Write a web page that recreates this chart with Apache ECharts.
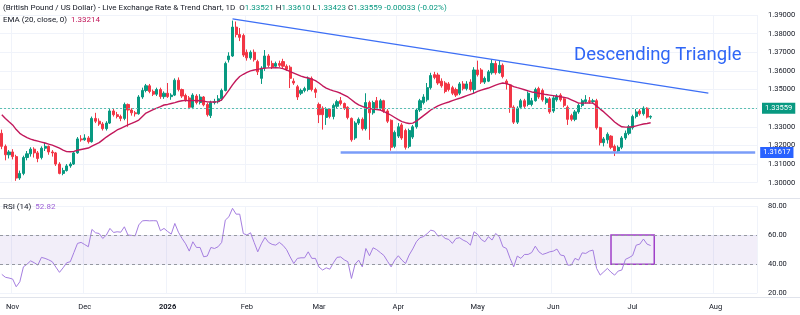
<!DOCTYPE html>
<html>
<head>
<meta charset="utf-8">
<script src="https://cdn.jsdelivr.net/npm/echarts@6/dist/echarts.min.js"></script>
<style>
html,body{margin:0;padding:0;background:#fff}
#main{width:800px;height:315px}
</style>
</head>
<body>
<div id="main"></div>
<script>
// GBP/USD daily candles, [open, close, low, high]
var candles = [
 [1.3265,1.3195,1.3180,1.3285],[1.3195,1.3150,1.3120,1.3205],[1.3150,1.3165,1.3130,1.3175],[1.3165,1.3140,1.3125,1.3180],
 [1.3140,1.3025,1.3010,1.3150],[1.3025,1.3050,1.3015,1.3065],[1.3050,1.3135,1.3040,1.3145],[1.3135,1.3155,1.3120,1.3170],
 [1.3155,1.3180,1.3140,1.3190],[1.3180,1.3160,1.3135,1.3190],[1.3160,1.3130,1.3110,1.3170],[1.3135,1.3185,1.3125,1.3195],
 [1.3185,1.3195,1.3170,1.3215],[1.3195,1.3165,1.3150,1.3200],[1.3165,1.3160,1.3140,1.3175],[1.3160,1.3100,1.3090,1.3165],
 [1.3100,1.3050,1.3045,1.3110],[1.3050,1.3065,1.3040,1.3080],[1.3065,1.3090,1.3060,1.3100],[1.3090,1.3100,1.3080,1.3110],
 [1.3100,1.3160,1.3095,1.3170],[1.3160,1.3235,1.3155,1.3245],[1.3235,1.3230,1.3220,1.3255],[1.3230,1.3240,1.3225,1.3260],
 [1.3240,1.3220,1.3210,1.3250],[1.3220,1.3345,1.3215,1.3355],[1.3345,1.3330,1.3320,1.3375],[1.3330,1.3315,1.3305,1.3345],
 [1.3315,1.3290,1.3280,1.3325],[1.3290,1.3320,1.3280,1.3330],[1.3320,1.3385,1.3315,1.3395],[1.3385,1.3365,1.3355,1.3400],
 [1.3365,1.3355,1.3345,1.3380],[1.3355,1.3345,1.3330,1.3365],[1.3345,1.3420,1.3335,1.3430],[1.3420,1.3390,1.3300,1.3425],
 [1.3390,1.3375,1.3360,1.3400],[1.3375,1.3370,1.3355,1.3385],[1.3370,1.3460,1.3365,1.3470],[1.3460,1.3495,1.3450,1.3510],
 [1.3495,1.3520,1.3485,1.3530],[1.3520,1.3490,1.3480,1.3530],[1.3490,1.3475,1.3465,1.3500],[1.3475,1.3500,1.3465,1.3510],
 [1.3500,1.3462,1.3450,1.3510],[1.3462,1.3480,1.3450,1.3490],[1.3480,1.3462,1.3455,1.3535],[1.3462,1.3470,1.3445,1.3480],
 [1.3470,1.3550,1.3465,1.3560],[1.3550,1.3500,1.3490,1.3565],[1.3500,1.3465,1.3455,1.3505],[1.3468,1.3445,1.3435,1.3478],
 [1.3455,1.3405,1.3395,1.3465],[1.3405,1.3470,1.3395,1.3480],[1.3465,1.3430,1.3420,1.3475],[1.3430,1.3460,1.3420,1.3475],
 [1.3460,1.3418,1.3410,1.3465],[1.3420,1.3365,1.3355,1.3430],[1.3360,1.3430,1.3347,1.3440],[1.3430,1.3435,1.3420,1.3450],
 [1.3435,1.3450,1.3425,1.3470],[1.3450,1.3495,1.3440,1.3505],[1.3495,1.3640,1.3490,1.3650],[1.3660,1.3680,1.3645,1.3700],
 [1.3680,1.3835,1.3675,1.3870],[1.3835,1.3795,1.3780,1.3865],[1.3795,1.3780,1.3760,1.3830],[1.3790,1.3685,1.3675,1.3800],
 [1.3700,1.3670,1.3655,1.3715],[1.3670,1.3700,1.3660,1.3710],[1.3700,1.3660,1.3650,1.3715],[1.3650,1.3595,1.3578,1.3660],
 [1.3560,1.3615,1.3530,1.3625],[1.3615,1.3680,1.3600,1.3712],[1.3680,1.3630,1.3620,1.3690],[1.3640,1.3620,1.3610,1.3655],
 [1.3625,1.3640,1.3615,1.3650],[1.3640,1.3630,1.3620,1.3655],[1.3650,1.3625,1.3615,1.3665],[1.3625,1.3610,1.3600,1.3635],
 [1.3620,1.3560,1.3508,1.3630],[1.3545,1.3535,1.3525,1.3560],[1.3515,1.3460,1.3444,1.3525],[1.3480,1.3495,1.3470,1.3505],
 [1.3495,1.3505,1.3485,1.3515],[1.3500,1.3560,1.3490,1.3570],[1.3560,1.3500,1.3490,1.3570],[1.3500,1.3485,1.3455,1.3510],
 [1.3420,1.3365,1.3320,1.3430],[1.3400,1.3365,1.3285,1.3410],[1.3350,1.3395,1.3310,1.3405],[1.3395,1.3355,1.3345,1.3400],
 [1.3355,1.3415,1.3340,1.3425],[1.3410,1.3435,1.3400,1.3445],[1.3440,1.3425,1.3415,1.3460],[1.3425,1.3400,1.3390,1.3430],
 [1.3405,1.3350,1.3340,1.3410],[1.3345,1.3230,1.3220,1.3350],[1.3240,1.3320,1.3230,1.3330],[1.3320,1.3340,1.3310,1.3350],
 [1.3340,1.3290,1.3280,1.3350],[1.3290,1.3430,1.3280,1.3480],[1.3430,1.3375,1.3230,1.3440],[1.3375,1.3430,1.3365,1.3440],
 [1.3440,1.3400,1.3390,1.3460],[1.3400,1.3440,1.3390,1.3450],[1.3440,1.3385,1.3375,1.3445],[1.3385,1.3330,1.3320,1.3395],
 [1.3335,1.3190,1.3172,1.3340],[1.3195,1.3270,1.3185,1.3280],[1.3250,1.3300,1.3240,1.3320],[1.3310,1.3240,1.3230,1.3320],
 [1.3280,1.3190,1.3178,1.3290],[1.3195,1.3280,1.3185,1.3290],[1.3245,1.3300,1.3235,1.3310],[1.3300,1.3390,1.3290,1.3400],
 [1.3390,1.3440,1.3380,1.3450],[1.3430,1.3460,1.3420,1.3475],[1.3445,1.3510,1.3435,1.3535],[1.3510,1.3575,1.3500,1.3590],
 [1.3580,1.3565,1.3555,1.3595],[1.3578,1.3535,1.3525,1.3590],[1.3545,1.3520,1.3510,1.3560],[1.3535,1.3490,1.3480,1.3545],
 [1.3530,1.3500,1.3490,1.3540],[1.3510,1.3480,1.3470,1.3520],[1.3500,1.3470,1.3460,1.3510],[1.3480,1.3530,1.3470,1.3540],
 [1.3530,1.3505,1.3495,1.3545],[1.3505,1.3530,1.3495,1.3545],[1.3540,1.3500,1.3490,1.3555],[1.3500,1.3605,1.3480,1.3620],
 [1.3605,1.3580,1.3570,1.3655],[1.3605,1.3540,1.3530,1.3615],[1.3540,1.3560,1.3530,1.3570],[1.3545,1.3595,1.3540,1.3605],
 [1.3590,1.3640,1.3580,1.3660],[1.3640,1.3590,1.3580,1.3655],[1.3590,1.3630,1.3585,1.3655],[1.3630,1.3570,1.3560,1.3640],
 [1.3545,1.3530,1.3500,1.3555],[1.3525,1.3405,1.3375,1.3530],[1.3405,1.3325,1.3315,1.3415],[1.3325,1.3400,1.3315,1.3410],
 [1.3405,1.3440,1.3395,1.3450],[1.3440,1.3410,1.3400,1.3450],[1.3420,1.3480,1.3410,1.3490],[1.3420,1.3440,1.3410,1.3455],
 [1.3440,1.3500,1.3435,1.3510],[1.3505,1.3460,1.3450,1.3515],[1.3495,1.3445,1.3435,1.3505],[1.3430,1.3450,1.3420,1.3460],
 [1.3450,1.3380,1.3370,1.3460],[1.3385,1.3455,1.3375,1.3465],[1.3445,1.3465,1.3435,1.3475],[1.3470,1.3445,1.3435,1.3480],
 [1.3450,1.3415,1.3405,1.3460],[1.3405,1.3340,1.3310,1.3415],[1.3360,1.3340,1.3330,1.3370],[1.3340,1.3380,1.3330,1.3390],
 [1.3380,1.3415,1.3370,1.3425],[1.3415,1.3440,1.3405,1.3450],[1.3435,1.3445,1.3425,1.3470],[1.3440,1.3435,1.3425,1.3460],
 [1.3435,1.3440,1.3425,1.3450],[1.3440,1.3295,1.3285,1.3450],[1.3295,1.3215,1.3200,1.3300],[1.3215,1.3235,1.3195,1.3245],
 [1.3230,1.3260,1.3210,1.3270],[1.3250,1.3190,1.3180,1.3255],[1.3195,1.3170,1.3143,1.3205],[1.3170,1.3190,1.3160,1.3200],
 [1.3190,1.3240,1.3180,1.3250],[1.3240,1.3265,1.3230,1.3280],[1.3265,1.3300,1.3255,1.3310],[1.3295,1.3355,1.3285,1.3365],
 [1.3355,1.3380,1.3345,1.3395],[1.3385,1.3370,1.3360,1.3395],[1.3370,1.3400,1.3360,1.3410],[1.3400,1.3352,1.3345,1.3405],
 [1.33521,1.33559,1.33423,1.33610]
];

// EMA(20, close)
var ema20 = [
 1.3365,1.3345,1.3327,1.3310,1.3285,1.3265,1.3252,1.3242,1.3234,1.3228,1.3223,1.3218,1.3213,1.3207,1.3202,1.3194,
 1.3185,1.3175,1.3167,1.3166,1.3168,1.3174,1.3178,1.3182,1.3186,1.3196,1.3206,1.3215,1.3230,1.3245,1.3258,1.3270,
 1.3283,1.3292,1.3301,1.3310,1.3318,1.3327,1.3336,1.3355,1.3374,1.3383,1.3392,1.3400,1.3408,1.3417,1.3420,1.3425,
 1.3430,1.3436,1.3440,1.3442,1.3440,1.3442,1.3440,1.3441,1.3438,1.3434,1.3433,1.3433,1.3435,1.3445,1.3470,1.3497,
 1.3525,1.3550,1.3570,1.3582,1.3592,1.3600,1.3605,1.3608,1.3612,1.3615,1.3616,1.3616,1.3617,1.3616,1.3612,1.3605,
 1.3596,1.3588,1.3580,1.3572,1.3566,1.3562,1.3556,1.3548,1.3535,1.3520,1.3508,1.3500,1.3493,1.3487,1.3480,1.3470,
 1.3460,1.3445,1.3430,1.3418,1.3410,1.3402,1.3398,1.3395,1.3393,1.3390,1.3382,1.3372,1.3362,1.3350,1.3338,1.3328,
 1.3322,1.3318,1.3320,1.3330,1.3345,1.3360,1.3375,1.3390,1.3402,1.3412,1.3420,1.3427,1.3433,1.3440,1.3447,1.3453,
 1.3460,1.3467,1.3474,1.3481,1.3490,1.3497,1.3503,1.3508,1.3516,1.3524,1.3530,1.3535,1.3532,1.3525,1.3516,1.3510,
 1.3505,1.3499,1.3493,1.3487,1.3484,1.3480,1.3477,1.3473,1.3470,1.3467,1.3464,1.3461,1.3458,1.3454,1.3445,1.3436,
 1.3427,1.3427,1.3428,1.3428,1.3427,1.3412,1.3395,1.3380,1.3362,1.3344,1.3326,1.3312,1.3300,1.3298,1.3298,1.3300,
 1.3305,1.3310,1.3315,1.3318,1.33214
];

// RSI(14)
var rsi14 = [
 33,31,30.5,29.8,24.5,27.9,38.2,40,42.3,41,39.4,44.7,44,43,41.7,38,34.4,37.5,41,41.7,
 48,54.3,55,53.5,52,63.9,61.6,61.1,57.7,60,64.6,61.8,62.3,62,65.7,60,59.8,59.5,67,69.8,
 70,69.8,69.9,69.8,63,64.6,62.5,60.7,68,62,57.7,54,49,55.4,51.5,51.5,45.1,45.6,51.5,50.8,
 52,55,70.3,72.6,78.4,74.4,74.4,61.1,60,61.6,55,48.5,54,58.4,55,53.6,53.1,55,53,50,
 45,40.5,44,44.4,44.4,48.5,44,44,38,36,37.5,36.6,41,44.7,45,43,41.7,30.2,40,42.8,
 38.2,50.8,45.8,51.3,50,48,46,42,38.2,42.8,45.8,42.8,40.5,46.3,50.5,55.4,58.2,59,61,63.4,
 62.7,59.3,60,57.7,57,54.3,57.7,58.2,56.5,55.4,53.1,62.3,60.5,57,55.4,58.9,56.6,61.1,58.9,52,
 50.8,44,38.2,45.6,44,46.7,46.7,48,52.4,48.5,46.7,47.5,48.5,49,50.4,46.3,45.8,39.4,39.4,44,
 42.8,47.8,47.4,49,49.7,37.1,32.5,34.8,37.1,34.5,32.5,35.3,36,43.3,44.5,46,53.1,53.8,57.3,53.8,
 52.82
];

var monthTicks = ['Nov', 'Dec', '2026', 'Feb', 'Mar', 'Apr', 'May', 'Jun', 'Jul', 'Aug'];
var priceTicks = [1.30, 1.39];   // price pane min / max
var rsiTicks = [20, 80];

var lastClose = 1.33559;
var lastEma = 1.33214;
var supportLevel = 1.31617;
var lastRsi = 52.82;

// trading days (Mon-Fri) from 29 Oct 2025, with room on the right
var dates = [];
var d = new Date(Date.UTC(2025, 9, 29));
while (dates.length < 210) {
    var wd = d.getUTCDay();
    if (wd !== 0 && wd !== 6) dates.push(d.toISOString().slice(0, 10));
    d.setUTCDate(d.getUTCDate() + 1);
}
var tickText = {};
var m = 0;
for (var i = 1; i < dates.length; i++) {
    if (dates[i].slice(0, 7) !== dates[i - 1].slice(0, 7)) {
        tickText[i] = monthTicks[m++];
    }
}
function isMonthStart(index) { return tickText[index] !== undefined; }

var FONT = 'Roboto, "Noto Sans", sans-serif';
var UP = '#089981', DOWN = '#f23645';
var GRIDC = '#f0f3fa';

var chart = echarts.init(document.getElementById('main'));
var option = {
    animation: false,
    backgroundColor: '#ffffff',
    grid: [
        {left: 0, width: 757, top: 15, height: 167.7},
        {left: 0, width: 757, top: 206, height: 87.3}
    ],
    xAxis: [
        {
            type: 'category', gridIndex: 0, data: dates, boundaryGap: true,
            axisLine: {show: false}, axisTick: {show: false}, axisLabel: {show: false},
            splitLine: {show: true, interval: isMonthStart, lineStyle: {color: GRIDC}}
        },
        {
            type: 'category', gridIndex: 1, data: dates, boundaryGap: true,
            axisLine: {show: false}, axisTick: {show: false},
            axisLabel: {
                interval: isMonthStart, margin: 10, color: '#131722',
                fontFamily: FONT, fontSize: 7.5,
                formatter: function (v, idx) {
                    var t = tickText[idx] || '';
                    return t === '2026' ? '{b|' + t + '}' : t;
                },
                rich: {b: {fontWeight: 'bold', fontSize: 7.5, fontFamily: FONT, color: '#131722'}}
            },
            splitLine: {show: true, interval: isMonthStart, lineStyle: {color: GRIDC}}
        }
    ],
    yAxis: [
        {
            type: 'value', gridIndex: 0, position: 'right',
            min: priceTicks[0], max: priceTicks[1], interval: 0.01,
            axisLine: {show: false}, axisTick: {show: false},
            axisLabel: {
                margin: 11, color: '#131722', fontFamily: FONT, fontSize: 7.5,
                formatter: function (v) { return v.toFixed(5); }
            },
            splitLine: {lineStyle: {color: GRIDC}}
        },
        {
            type: 'value', gridIndex: 1, position: 'right',
            min: rsiTicks[0], max: rsiTicks[1], interval: 20,
            axisLine: {show: false}, axisTick: {show: false},
            axisLabel: {
                margin: 11, color: '#131722', fontFamily: FONT, fontSize: 7.5,
                formatter: function (v) { return v.toFixed(2); }
            },
            splitLine: {lineStyle: {color: GRIDC}}
        }
    ],
    series: [
        {
            name: 'GBPUSD', type: 'candlestick', xAxisIndex: 0, yAxisIndex: 0,
            data: candles, barWidth: 2.6,
            itemStyle: {color: UP, color0: DOWN, borderColor: UP, borderColor0: DOWN, borderWidth: 1},
            markLine: {
                silent: true, symbol: ['none', 'none'], animation: false,
                data: [
                    [
                        {coord: [dates[64], 1.3879], lineStyle: {color: '#3d6ff5', width: 1.2, type: 'solid'}, label: {show: false}},
                        {coord: [dates[196], 1.3481]}
                    ],
                    [
                        {
                            coord: [dates[94], supportLevel], lineStyle: {color: '#7a9cf8', width: 2.5, type: 'solid'},
                            label: {
                                show: true, position: 'end', distance: 5, formatter: supportLevel.toFixed(5),
                                backgroundColor: '#2962ff', color: '#fff', padding: [2, 3, 1, 3],
                                fontFamily: FONT, fontSize: 7.5
                            }
                        },
                        {coord: [dates[209], supportLevel]}
                    ],
                    {
                        yAxis: lastClose, lineStyle: {color: '#5cc0b2', width: 1, type: [2, 2]},
                        label: {
                            show: true, position: 'end', distance: 5, formatter: lastClose.toFixed(5),
                            backgroundColor: UP, color: '#fff', padding: [2, 3, 1, 3],
                            fontFamily: FONT, fontSize: 7.5
                        }
                    }
                ]
            }
        },
        {
            name: 'EMA', type: 'line', xAxisIndex: 0, yAxisIndex: 0,
            data: ema20, showSymbol: false, smooth: false,
            lineStyle: {color: '#c2185b', width: 1.4},
            markLine: {
                silent: true, symbol: ['none', 'none'],
                data: [{
                    yAxis: lastEma, lineStyle: {opacity: 0},
                    label: {
                        show: true, position: 'end', distance: 5, formatter: lastEma.toFixed(5),
                        backgroundColor: '#c2185b', color: '#fff', padding: [2, 3, 1, 3],
                        fontFamily: FONT, fontSize: 7.5
                    }
                }]
            }
        },
        {
            name: 'RSI', type: 'line', xAxisIndex: 1, yAxisIndex: 1,
            data: rsi14, showSymbol: false,
            lineStyle: {color: '#a57ee0', width: 1},
            markLine: {
                silent: true, symbol: ['none', 'none'],
                data: [
                    {yAxis: 60, lineStyle: {color: '#9598a1', width: 1, type: [3, 3]}, label: {show: false}},
                    {yAxis: 40, lineStyle: {color: '#9598a1', width: 1, type: [3, 3]}, label: {show: false}},
                    {
                        yAxis: lastRsi, lineStyle: {opacity: 0},
                        label: {
                            show: true, position: 'end', distance: 5, formatter: lastRsi.toFixed(2),
                            backgroundColor: '#9c5fd6', color: '#fff', padding: [2, 4, 1, 4],
                            fontFamily: FONT, fontSize: 7.5
                        }
                    }
                ]
            },
            markArea: {
                silent: true,
                data: [
                    [{yAxis: 60, itemStyle: {color: 'rgba(126,87,194,0.1)'}}, {yAxis: 40}],
                    [
                        {xAxis: dates[169], yAxis: 60, itemStyle: {color: 'rgba(0,0,0,0)', borderColor: '#a040c8', borderWidth: 1.5}},
                        {xAxis: dates[181], yAxis: 40}
                    ]
                ]
            }
        }
    ],
    graphic: [
        {type: 'line', z: 50, shape: {x1: 0, y1: 198.5, x2: 800, y2: 198.5}, style: {stroke: '#e0e3eb', lineWidth: 1}, silent: true},
        {type: 'line', z: 50, shape: {x1: 0, y1: 297.5, x2: 800, y2: 297.5}, style: {stroke: '#e0e3eb', lineWidth: 1}, silent: true},
        {
            type: 'text', z: 100, left: 3, top: 3.5, silent: true,
            style: {
                text: '(British Pound / US Dollar) - Live Exchange Rate & Trend Chart, 1D  {k|O}{v|1.33521} {k|H}{v|1.33610} {k|L}{v|1.33423} {k|C}{v|1.33559} {v|-0.00033 (-0.02%)}',
                fontFamily: FONT, fontSize: 8, fill: '#131722',
                rich: {
                    k: {fontFamily: FONT, fontSize: 8, fill: '#131722'},
                    v: {fontFamily: FONT, fontSize: 8, fill: UP}
                }
            }
        },
        {
            type: 'text', z: 100, left: 3, top: 15.5, silent: true,
            style: {
                text: 'EMA (20, close, 0)  {v|1.33214}',
                fontFamily: FONT, fontSize: 8, fill: '#131722',
                rich: {v: {fontFamily: FONT, fontSize: 8, fill: '#c2185b'}}
            }
        },
        {
            type: 'text', z: 100, left: 3, top: 202.5, silent: true,
            style: {
                text: 'RSI (14)  {v|52.82}',
                fontFamily: FONT, fontSize: 8, fill: '#131722',
                rich: {v: {fontFamily: FONT, fontSize: 8, fill: '#9c5fd6'}}
            }
        },
        {
            type: 'text', z: 100, left: 574, top: 46, silent: true,
            style: {text: 'Descending Triangle', fontFamily: FONT, fontSize: 18.5, fill: '#2f66f6'}
        }
    ]
};
chart.setOption(option);
</script>
</body>
</html>
